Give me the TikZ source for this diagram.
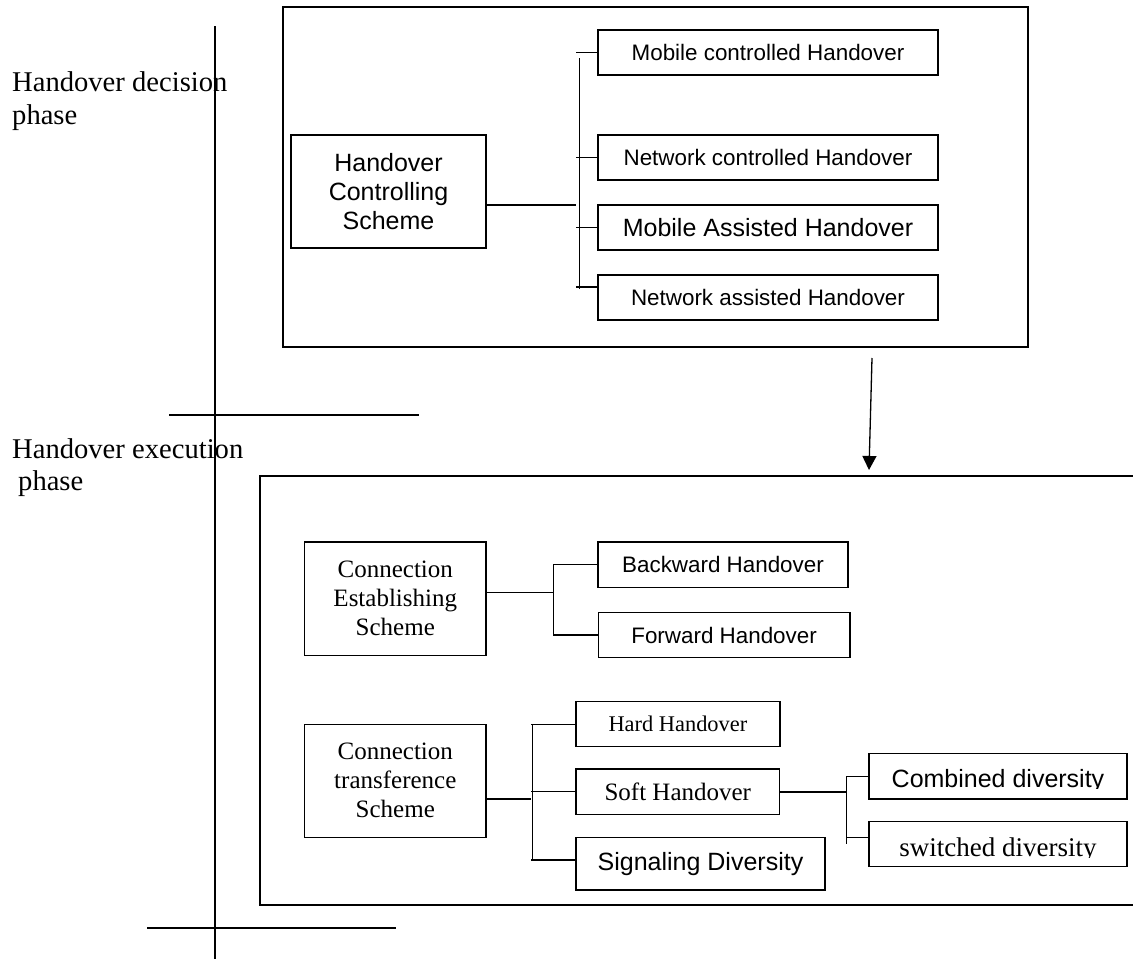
\documentclass[tikz,border=0pt]{standalone}
\usepackage{fontspec}
\setmainfont{Liberation Serif}
\newfontfamily\arialf{Liberation Sans}
\usetikzlibrary{arrows.meta}
\begin{document}
\begin{tikzpicture}[x=1pt,y=-1pt,
  cell/.style={draw,line width=1.4pt,inner sep=0pt,outer sep=0pt,align=center},
  frame/.style={draw,line width=1.8pt},
  conn/.style={draw,line width=1.3pt},
  axis/.style={draw,line width=1.2pt},
  sansS/.style={font=\arialf\fontsize{22.4}{26}\selectfont},
  sansL/.style={font=\arialf\fontsize{25}{29}\selectfont},
  serifS/.style={font=\fontsize{22.4}{26}\selectfont},
  serifL/.style={font=\fontsize{25}{29}\selectfont},
  phase/.style={font=\fontsize{28.6}{32.5}\selectfont,align=left,anchor=base west,inner sep=0pt}]
\useasboundingbox (0,0) rectangle (1133,959);

% left axis and phase labels
\node[phase] (ldec) at (12,124.2) {Handover decision\\phase};
\node[phase] (lexe) at (12,490.8) {Handover execution\\\hspace*{6pt}phase};
\coordinate (axT) at (215,26);
\coordinate (axB) at (215,959);
\draw[axis] (axT) -- (axB);
\coordinate (h1a) at (169,415); \coordinate (h1b) at (419,415);
\coordinate (h2a) at (147,928); \coordinate (h2b) at (396,928);
\draw[axis] (h1a) -- (h1b);
\draw[axis] (h2a) -- (h2b);

% top frame
\node[frame,minimum width=745pt,minimum height=340pt,inner sep=0pt] (topframe) at (655.5,177) {};

\node[cell,sansL,minimum width=195pt,minimum height=113pt] (hcs) at (388.5,191.5) {Handover\\Controlling\\Scheme};
\node[cell,sansS,minimum width=340pt,minimum height=45pt] (mch) at (768,52.5) {Mobile controlled Handover};
\node[cell,sansS,minimum width=340pt,minimum height=45pt] (nch) at (768,157.5) {Network controlled Handover};
\node[cell,sansL,minimum width=340pt,minimum height=45pt] (mah) at (768,227.5) {Mobile Assisted Handover};
\node[cell,sansS,minimum width=340pt,minimum height=45pt] (nah) at (768,297.5) {Network assisted Handover};

\coordinate (j1) at (576,205);
\coordinate (b1t) at (579.5,58);
\coordinate (b1b) at (579.5,289);
\draw[conn] (j1 -| hcs.east) -- (j1);
\draw[conn] (b1t) -- (b1b);
\draw[conn] (mch.west) -- ++(-22,0);
\draw[conn] (nch.west) -- ++(-22,0);
\draw[conn] (mah.west) -- ++(-22,0);
\draw[conn] ([yshift=10.5pt]nah.west) -- ++(-22,0);

% arrow
\coordinate (arrS) at (872,358);
\coordinate (arrE) at (869,470);
\draw[conn,-{Triangle[length=14pt,width=14pt]}] (arrS) -- (arrE);

% bottom frame (open to the right)
\coordinate (bfTR) at (1133,476);
\coordinate (bfBL) at (260,905);
\coordinate (bfBR) at (1133,905);
\draw[frame] (bfTR) -| (bfBL) -- (bfBR);

% connection establishing
\node[cell,serifL,minimum width=181.3pt,minimum height=113.3pt] (ces) at (395.3,598.7) {Connection\\Establishing\\Scheme};
\node[cell,sansS,minimum width=249.7pt,minimum height=45.7pt] (bwh) at (723,564.8) {Backward Handover};
\node[cell,sansS,minimum width=251.7pt,minimum height=45.4pt] (fwh) at (724.1,635) {Forward Handover};
\coordinate (j2) at (553.5,592.3);
\draw[conn] (j2 -| ces.east) -- (j2);
\draw[conn] (bwh.west) -| (j2) |- (fwh.west);

% connection transference
\node[cell,serifL,minimum width=181.3pt,minimum height=113pt] (cts) at (395.3,780.8) {Connection\\transference\\Scheme};
\node[cell,serifS,minimum width=204.2pt,minimum height=45pt] (hard) at (677.9,724.2) {Hard Handover};
\node[cell,serifL,minimum width=203.6pt,minimum height=45.3pt] (soft) at (677.8,791.7) {Soft Handover};
\node[cell,sansL,minimum width=249pt,minimum height=52.7pt] (sig) at (700.5,863.7) {Signaling Diversity};
\coordinate (j3) at (531,799);
\coordinate (b3t) at (532.5,724);
\coordinate (b3b) at (532.5,860);
\draw[conn] (j3 -| cts.east) -- (j3);
\draw[conn] (b3t) -- (b3b);
\draw[conn] (hard.west) -- (hard.west -| j3);
\draw[conn] (soft.west) -- (soft.west -| j3);
\draw[conn] ([yshift=3.7pt]sig.west) -- ([yshift=3.7pt]sig.west -| j3);

% diversity
\node[cell,minimum width=258pt,minimum height=45.3pt] (comb) at (998,776.4) {};
\node[cell,minimum width=258pt,minimum height=45pt] (swit) at (998,844.2) {};
\begin{scope}
  \clip (869,753.7) rectangle (1127,788);
  \node[sansL,inner sep=0pt,anchor=base] (combt) at (998,787) {Combined diversity};
\end{scope}
\begin{scope}
  \clip (869,821.7) rectangle (1127,857);
  \node[font=\fontsize{27}{31}\selectfont,inner sep=0pt,anchor=base] (switt) at (998,856) {switched diversity};
\end{scope}
\coordinate (j4) at (846.8,792);
\coordinate (b4t) at (846.8,776);
\coordinate (b4b) at (846.8,844.3);
\draw[conn] (j4 -| soft.east) -- (j4);
\draw[conn] (b4t) -- (b4b);
\draw[conn] (comb.west) -- (comb.west -| j4);
\draw[conn] ([yshift=7pt]swit.west) -- ([yshift=7pt]swit.west -| j4);
\end{tikzpicture}
\end{document}
